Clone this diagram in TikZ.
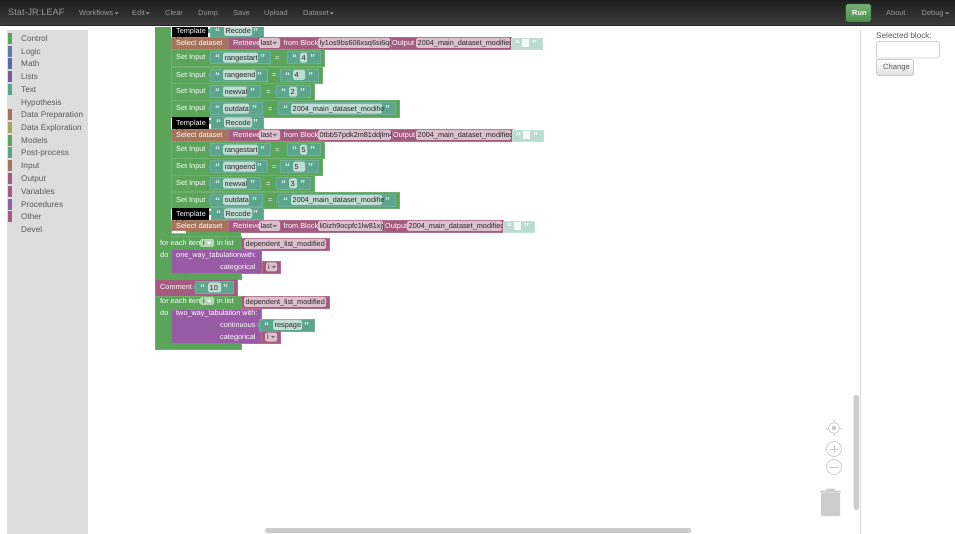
\documentclass[tikz,border=0pt]{standalone}
\usepackage{fontspec}
\setmainfont{Liberation Sans}
\definecolor{cgreen}{HTML}{5BA55B}
\definecolor{cblue}{HTML}{5B80A5}
\definecolor{cmath}{HTML}{5B67A5}
\definecolor{clist}{HTML}{745BA5}
\definecolor{cteal}{HTML}{5BA58C}
\definecolor{cbrown}{HTML}{A5745B}
\definecolor{colive}{HTML}{A5A55B}
\definecolor{cplum}{HTML}{A55B80}
\definecolor{cproc}{HTML}{995BA5}
\definecolor{cpale}{HTML}{BDDCD1}
\definecolor{cside}{HTML}{DDDDDD}
\definecolor{cgrey}{HTML}{CCCCCC}
\newcounter{nn}
\tikzset{
 lbl/.style={inner sep=0pt,anchor=mid west,font=\fontsize{7.3}{8}\selectfont,text=white},
 dark/.style={lbl,text=black!85},
 side/.style={inner sep=0pt,anchor=mid west,font=\fontsize{8.2}{9}\selectfont,text=black!65},
 menu/.style={inner sep=0pt,anchor=mid west,font=\fontsize{7.4}{8}\selectfont,text=black!40},
 quo/.style={lbl,font=\fontsize{10}{10}\selectfont\bfseries,text=white!80!cteal},
 blk/.style={fill=#1,draw=#1!88!white,line width=.5pt},
 fieldbox/.style={fill=white,fill opacity=.62,rounded corners=1.5pt},
 ctl/.style={draw=black!18,line width=.9pt,fill=white}
}
% text: x, y, style, text
\newcommand\tx[4]{\stepcounter{nn}\node[#3] (t\thenn) at (#1,#2) {#4};}
% block: colour x1 y1 x2 y2
\newcommand\bk[5]{\path[blk=#1] (#2,#3) rectangle (#4,#5);}
% tab under a statement block
\newcommand\notch[3]{\fill[#1] (#2,#3) -- ++(0,1.5) arc[start angle=180,end angle=360,radius=3.5] -- ++(0,-1.5) -- cycle;}
% text field: x1 x2 ymid text
\newcommand\fld[4]{\fill[fieldbox] (#1,#3-5) rectangle (#2,#3+5);\tx{#1+1.5}{#3}{dark}{#4}}
% quoted teal block: x1 x2 ymid text field-x1 field-x2
\newcommand\tq[6]{\fill[cteal] (#1-2.5,#3-2) rectangle (#1,#3+2);
 \bk{cteal}{#1}{#3-6}{#2}{#3+6}
 \fld{#5}{#6}{#3}{#4}
 \tx{#1+5}{#3+1.5}{quo}{“}
 \tx{#2-10}{#3+1.5}{quo}{”}}
% Set Input row: y1 y2 xend | a2 text f2 | eqx | b1 text
\newcommand\setrow[9]{\bk{cgreen}{171}{#1}{#3}{#2}
 \pgfmathsetmacro\rowm{(#1+#2)/2}
 \tx{176}{\rowm-0.5}{lbl}{Set Input}
 \tq{210}{#4}{\rowm}{#5}{223}{#6}
 \tx{#7}{\rowm}{lbl}{=}
 \tq{#8}{#3-4}{\rowm}{#9}{#8+13}{#3-17}}
% Select dataset row: y xpurple block-id xfieldend xoutput xfieldout
\newcommand\selrow[6]{\bk{cbrown}{171}{#1}{228}{#1+12}
 \tx{176}{#1+6}{lbl}{Select dataset}
 \bk{cplum}{228}{#1}{#2}{#1+12}
 \tx{233}{#1+6}{lbl}{Retrieve}
 \fld{259}{280}{#1+6}{last}
 \fill[black!55] (272.5,#1+5) -- (277,#1+5) -- (274.7,#1+7.5) -- cycle;
 \tx{283.5}{#1+6}{lbl}{from Block}
 \fld{318}{#4}{#1+6}{#3}
 \bk{cplum}{#4+1}{#1}{#2}{#1+12}
 \tx{#5}{#1+6}{lbl}{Output}
 \fld{#6}{#2-1}{#1+6}{2004\_main\_dataset\_modified}
 \bk{cpale}{#2}{#1+1}{#2+31}{#1+12}
 \fill[white!85!cpale] (#2+11,#1+2.5) rectangle (#2+18,#1+10);
 \tx{#2+4}{#1+7.5}{quo,text=white}{“}
 \tx{#2+21}{#1+7.5}{quo,text=white}{”}}
% small purple variable field
\newcommand\varf[3]{\fill[cplum] (#1-2.5,#2-2) rectangle (#1,#2+2);
 \bk{cplum}{#1}{#2-6}{#3}{#2+6}
 \fill[fieldbox] (#1+4,#2-4.5) rectangle (#3-3,#2+4.5);
 \tx{#1+6}{#2}{dark}{i}
 \fill[black!55] (#1+10,#2-1) -- (#1+14,#2-1) -- (#1+12,#2+1.5) -- cycle;}
% "for each" header: y-top of the row
\newcommand\foreachrow[1]{\tx{160}{#1}{lbl}{for each item}
 \fill[white!55!cgreen,rounded corners=1.5pt] (200,#1-4) rectangle (214,#1+4);
 \tx{203}{#1}{dark}{i}
 \fill[white] (207,#1-1) -- (211,#1-1) -- (209,#1+1.5) -- cycle;
 \tx{217}{#1}{lbl}{in list}}
\begin{document}
\begin{tikzpicture}[x=1pt,y=-1pt]
\useasboundingbox (0,0) rectangle (955,534);
\fill[white] (0,0) rectangle (955,534);
%% sidebar
\fill[cside] (7,30) rectangle (88,534);
\foreach \yy/\cc/\ll in {39/cgreen/Control,51.5/cblue/Logic,64/cmath/Math,77/clist/Lists,90/cteal/Text,115/cbrown/Data Preparation,128/colive/Data Exploration,141/cgreen/Models,153/cteal/Post-process,166/cbrown/Input,179/cplum/Output,192/cplum/Variables,204.5/cproc/Procedures,217/cplum/Other}{
 \fill[\cc] (7.5,\yy-5.5) rectangle (11.5,\yy+5.5);
 \tx{21}{\yy}{side}{\ll}
}
\tx{21}{102.5}{side}{Hypothesis}
\tx{21}{230}{side}{Devel}
%% right panel
\draw[black!14,line width=.7pt] (860,30) -- (860,534);
\tx{876}{35.5}{side,text=black!65}{Selected block:}
\path[draw=black!18,fill=white,rounded corners=1.5pt,line width=.6pt] (876.5,41.5) rectangle (939.5,58);
\path[draw=black!22,top color=white,bottom color=black!12,rounded corners=1.5pt,line width=.6pt] (876.5,59.5) rectangle (913.5,75.5);
\tx{883}{67}{side,text=black!65,font=\fontsize{7.6}{8}\selectfont}{Change}
%% blocks
\begin{scope}
\clip (90,28) rectangle (860,534);
\fill[cgreen] (155,20) rectangle (171,346);
% first template
\fill[black] (172,20) rectangle (208,37);
\tx{176}{31}{lbl}{Template}
\tq{210}{263}{31}{Recode}{224}{252}
\selrow{37}{511}{ly1os9bs606xsq6si6qr}{390}{392}{416}
\setrow{49.5}{66}{324}{270}{rangestart}{258}{275}{287}{4}
\setrow{67}{83}{322}{267}{rangeend}{256}{272}{280}{4}
\setrow{83.5}{100}{314}{260}{newval}{247}{266}{276}{2}
\setrow{100.5}{117}{399}{262}{outdata}{249}{268}{278}{2004\_main\_dataset\_modifie}
\fill[black] (172,117.5) rectangle (209,129);
\tx{176}{122.5}{lbl}{Template}
\tq{211}{263}{122.5}{Recode}{224}{252}
\selrow{129}{512}{0tbb57pdk2m81ddjlm4}{391}{393}{416}
\setrow{141.5}{158}{324}{270}{rangestart}{258}{275}{287}{5}
\setrow{158.5}{175}{322}{267}{rangeend}{256}{272}{280}{5}
\setrow{175.5}{191.5}{314}{260}{newval}{247}{266}{276}{3}
\setrow{192}{208}{399}{262}{outdata}{249}{268}{278}{2004\_main\_dataset\_modifie}
\fill[black] (172,208.5) rectangle (209,220);
\tx{176}{213.5}{lbl}{Template}
\tq{211}{263}{213.5}{Recode}{224}{252}
\selrow{220}{503}{li0izh9ocpfc1lw81xjy}{383}{385}{407}
% tail of the inner block
\fill[cgreen] (155,232) rectangle (241,239);
\fill[white,rounded corners=1pt] (171.5,231) rectangle (186,233.5);
% first for each
\bk{cgreen}{155}{236}{241}{279}
\fill[cgreen] (155,230) rectangle (171,279);
\foreachrow{243}
\tx{160}{255}{lbl}{do}
\bk{cplum}{241}{238}{329}{250}
\fld{244}{326}{244}{dependent\_list\_modified}
\bk{cproc}{171}{249}{261}{273}
\tx{176}{255}{lbl}{one\_way\_tabulationwith:}
\tx{220}{267}{lbl}{categorical}
\varf{262}{267}{280}
% comment
\bk{cplum}{155}{279}{237}{296}
\tx{160}{287}{lbl}{Comment}
\tq{195}{233}{287.5}{10}{208}{221}
% second for each
\bk{cgreen}{155}{296}{241}{349}
\foreachrow{301}
\tx{160}{313}{lbl}{do}
\bk{cplum}{241}{296}{329}{308}
\fld{244}{326}{302}{dependent\_list\_modified}
\bk{cproc}{171}{309}{261}{343}
\tx{176}{313}{lbl}{two\_way\_tabulation with:}
\tx{220}{325}{lbl}{continuous}
\tq{259}{314}{325}{respage}{273}{302}
\tx{220}{337}{lbl}{categorical}
\varf{261}{337}{280}
% tabs
\foreach \yy in {66,83,100,158,175,191.5}{\notch{cgreen}{176}{\yy}}
\notch{cbrown}{176}{49}
\notch{cbrown}{176}{141}
\notch{black}{176}{129}
\notch{black}{176}{220}
\notch{black}{176}{37}
\notch{cgreen}{160}{279}
\notch{cproc}{178}{273}
\notch{cplum}{160}{296}
\notch{cgreen}{161}{349}
\end{scope}
%% scrollbars and controls
\fill[cgrey,rounded corners=2.5pt] (853.5,395) rectangle (859,510);
\fill[cgrey,rounded corners=2.5pt] (265,528) rectangle (691.5,533);
\draw[ctl] (834,428) circle (5.5);
\fill[black!22] (834,428) circle (2.2);
\foreach \aa/\bb/\cc/\dd in {834/420/834/422.5,834/433.5/834/436,826/428/828.5/428,839.5/428/842/428}{\draw[black!18,line width=.7pt] (\aa,\bb) -- (\cc,\dd);}
\draw[ctl] (834,449) circle (7.5);
\draw[black!22,line width=.9pt] (830,449) -- (838,449) (834,445) -- (834,453);
\draw[ctl] (834,467) circle (7.5);
\draw[black!22,line width=.9pt] (830,467) -- (838,467);
\fill[cgrey,rounded corners=1pt] (821,493) rectangle (840,516);
\fill[cgrey,rounded corners=.8pt] (820,490.5) rectangle (841,492.5);
\fill[cgrey,rounded corners=.8pt] (826,488.5) rectangle (835,491);
%% top bar
\shade[top color=black!88,bottom color=black!76] (0,0) rectangle (955,26);
\fill[black!85] (0,25.5) rectangle (955,26);
\tx{8}{13}{menu,font=\fontsize{9.2}{10}\selectfont}{Stat-JR:LEAF}
\tx{79}{13}{menu}{Workflows}
\tx{132}{13}{menu}{Edit}
\tx{165}{13}{menu}{Clear}
\tx{198}{13}{menu}{Dump}
\tx{233}{13}{menu}{Save}
\tx{264}{13}{menu}{Upload}
\tx{303}{13}{menu}{Dataset}
\tx{886}{13}{menu}{About}
\tx{921.5}{13}{menu}{Debug}
\foreach \xx in {115,146,330,945.5}{\fill[black!40] (\xx,12.5) -- (\xx+3.4,12.5) -- (\xx+1.7,14.5) -- cycle;}
\path[draw=green!30!black,top color=cgreen!85!white,bottom color=cgreen!85!black,rounded corners=1.5pt,line width=.4pt] (845.5,4) rectangle (871,22);
\tx{852}{13}{menu,text=white,font=\fontsize{7.4}{8}\selectfont\bfseries}{Run}
\end{tikzpicture}
\end{document}
